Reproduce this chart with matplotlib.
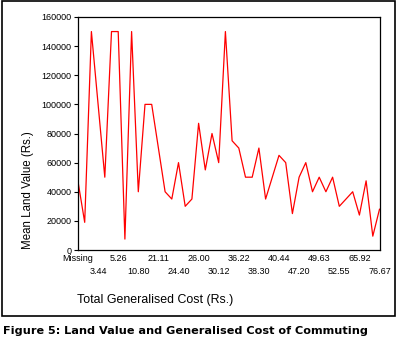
import numpy as np
import matplotlib
matplotlib.use('Agg')
import matplotlib.pyplot as plt
from matplotlib.patches import Rectangle

# mean land value per generalised cost category (46 categories)
land_value = [47000, 19000, 150000, 100000, 50000, 150000, 150000, 7500, 150000, 40000,
              100000, 100000, 70000, 40000, 35000, 60000, 30000, 35000, 87000, 55000,
              80000, 60000, 150000, 75000, 70000, 50000, 50000, 70000, 35000, 50000,
              65000, 60000, 25000, 50000, 60000, 40000, 50000, 40000, 50000, 30000,
              35000, 40000, 24000, 47500, 9500, 28000]
# only every third category is labelled
tick_labels = ['Missing', '3.44', '5.26', '10.80', '21.11', '24.40', '26.00', '30.12',
               '36.22', '38.30', '40.44', '47.20', '49.63', '52.55', '65.92', '76.67']
y_ticks = [0, 20000, 40000, 60000, 80000, 100000, 120000, 140000, 160000]

W, H = 397, 351
fig = plt.figure(figsize=(W / 100, H / 100), dpi=100)
ax = fig.add_axes([78 / W, 1 - 250 / H, (379.5 - 78) / W, (250 - 17) / H])

x = np.arange(len(land_value))
ax.plot(x, land_value, color='#ff0000', lw=0.9)
ax.set_xlim(0, len(land_value) - 1)
ax.set_ylim(0, 160000)

ax.set_yticks(y_ticks)
ax.set_yticklabels([str(v) for v in y_ticks], fontsize=6.5, family='Liberation Sans')
ax.tick_params(axis='y', length=3, width=0.8, pad=1.5)

tick_pos = x[::3]
ax.set_xticks(tick_pos[::2])
ax.set_xticklabels(tick_labels[::2], fontsize=6.5, family='Liberation Sans')
ax.set_xticks(tick_pos[1::2], minor=True)
ax.set_xticklabels(tick_labels[1::2], minor=True, fontsize=6.5, family='Liberation Sans')
ax.tick_params(axis='x', which='major', length=0, pad=3)
ax.tick_params(axis='x', which='minor', length=0, pad=12.5)

for s in ax.spines.values():
    s.set_linewidth(0.9)

fig.text(28 / W, 1 - 249 / H, 'Mean Land Value (Rs.)', rotation=90, ha='center', va='bottom',
         fontsize=8.3, family='Liberation Sans')
fig.text(77 / W, 1 - 300.5 / H, 'Total Generalised Cost (Rs.)', ha='left', va='center',
         fontsize=8.9, family='Liberation Sans')

# outer frame round the chart
fig.patches.append(Rectangle((1.5 / W, 1 - 316 / H), 393.5 / W, 315 / H, transform=fig.transFigure,
                             fill=False, ec='black', lw=1.2))

fig.text(3 / W, 1 - 331 / H, 'Figure 5: Land Value and Generalised Cost of Commuting',
         ha='left', va='center', fontsize=8.1, fontweight='bold', family='DejaVu Sans')

fig.savefig('out.png', dpi=100)
